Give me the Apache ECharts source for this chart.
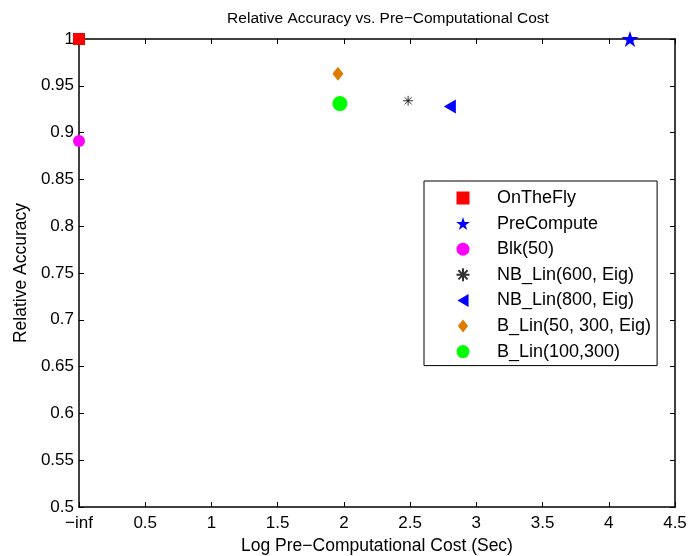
<!DOCTYPE html>
<html>
<head>
<meta charset="utf-8">
<script src="https://cdn.jsdelivr.net/npm/echarts@6/dist/echarts.min.js"></script>
<style>html,body{margin:0;padding:0;background:#fff}#c{width:689px;height:556px}</style>
</head>
<body>
<div id="c"></div>
<script>
// ---- data ----
var seriesNames = ['OnTheFly', 'PreCompute', 'Blk(50)', 'NB_Lin(600, Eig)', 'NB_Lin(800, Eig)', 'B_Lin(50, 300, Eig)', 'B_Lin(100,300)'];
var logCost = [0, 4.16, 0, 2.485, 2.80, 1.955, 1.97];   // 0 represents -inf
var relAccuracy = [1.0, 1.0, 0.891, 0.934, 0.928, 0.963, 0.931];
var xTickLabels = ['\u2212inf', '0.5', '1', '1.5', '2', '2.5', '3', '3.5', '4', '4.5'];

// ---- styles ----
var SQUARE = 'path://M0,0 L10,0 L10,10 L0,10 Z';
var STAR = 'path://M100,0 L122.45,69.1 L195.1,69.1 L136.3,111.8 L158.8,180.9 L100,138.2 L41.2,180.9 L63.7,111.8 L4.9,69.1 L77.55,69.1 Z';
var ASTER = 'path://M10,0 L10,20 M0,10 L20,10 M2.93,2.93 L17.07,17.07 M2.93,17.07 L17.07,2.93';
var LTRI = 'path://M0,7 L12,0 L12,14 Z';
var DIAM = 'path://M5.5,0 L11,7 L5.5,14 L0,7 Z';
var markerStyles = [
  {symbol: SQUARE, size: 12, color: '#FF0000'},
  {symbol: STAR, size: [17, 16], color: '#0000FF'},
  {symbol: 'circle', size: 12, color: '#FF00FF'},
  {symbol: ASTER, size: 10, color: '#000000', stroke: true},
  {symbol: LTRI, size: [12, 14], color: '#0000FF'},
  {symbol: DIAM, size: [11, 14], color: '#DD7C00'},
  {symbol: 'circle', size: 15, color: '#00FF00'}
];

var FONT = 'Liberation Sans, Arial, Helvetica, sans-serif';
var series = seriesNames.map(function (name, i) {
  var m = markerStyles[i];
  return {
    name: name,
    type: 'scatter',
    data: [[logCost[i], relAccuracy[i]]],
    symbol: m.symbol,
    symbolSize: m.size,
    clip: false,
    z: 10,
    itemStyle: m.stroke ? {color: 'none', borderColor: m.color, borderWidth: 1} : {color: m.color, opacity: 1},
    emphasis: {disabled: true}
  };
});

var chart = echarts.init(document.getElementById('c'), null, {renderer: 'canvas'});
chart.setOption({
  animation: false,
  backgroundColor: '#ffffff',
  textStyle: {fontFamily: FONT, color: '#000'},
  title: {
    text: 'Relative Accuracy vs. Pre\u2212Computational Cost',
    left: 383, top: 6, textAlign: 'center',
    textStyle: {fontSize: 15.5, fontWeight: 'normal', color: '#000', fontFamily: FONT}
  },
  grid: {left: 79, right: 14, top: 39, bottom: 49, containLabel: false, outerBoundsMode: 'none'},
  legend: {
    orient: 'vertical',
    left: 424, top: 181,
    padding: [8, 6, 5, 30],
    itemWidth: 58, itemHeight: 13, itemGap: 7.6,
    backgroundColor: '#fff',
    borderColor: '#000', borderWidth: 1,
    textStyle: {fontSize: 18, color: '#000', fontFamily: FONT},
    selectedMode: false,
    data: seriesNames
  },
  xAxis: [{
    type: 'value', min: 0, max: 4.5, interval: 0.5,
    name: 'Log Pre\u2212Computational Cost (Sec)',
    nameLocation: 'middle', nameGap: 29,
    nameTextStyle: {fontSize: 17.5, color: '#000', fontFamily: FONT},
    axisLine: {show: true, onZero: false, lineStyle: {color: '#000', width: 1.5}},
    axisTick: {show: true, inside: true, length: 5, lineStyle: {color: '#000'}},
    axisLabel: {fontSize: 17, color: '#000', margin: 8, fontFamily: FONT,
      formatter: function (v) { return xTickLabels[Math.round(v / 0.5)]; }},
    splitLine: {show: false}
  }, {
    type: 'value', min: 0, max: 4.5, interval: 0.5, position: 'top',
    axisLine: {show: true, onZero: false, lineStyle: {color: '#000', width: 1.5}},
    axisTick: {show: true, inside: true, length: 5, lineStyle: {color: '#000'}},
    axisLabel: {show: false}, splitLine: {show: false}
  }],
  yAxis: [{
    type: 'value', min: 0.5, max: 1, interval: 0.05,
    name: 'Relative Accuracy',
    nameLocation: 'middle', nameGap: 49,
    nameTextStyle: {fontSize: 17.5, color: '#000', fontFamily: FONT},
    axisLine: {show: true, onZero: false, lineStyle: {color: '#000', width: 1.5}},
    axisTick: {show: true, inside: true, length: 5, lineStyle: {color: '#000'}},
    axisLabel: {fontSize: 17, color: '#000', margin: 5, fontFamily: FONT},
    splitLine: {show: false}
  }, {
    type: 'value', min: 0.5, max: 1, interval: 0.05, position: 'right',
    axisLine: {show: true, onZero: false, lineStyle: {color: '#000', width: 1.5}},
    axisTick: {show: true, inside: true, length: 5, lineStyle: {color: '#000'}},
    axisLabel: {show: false}, splitLine: {show: false}
  }],
  series: series
});
</script>
</body>
</html>
